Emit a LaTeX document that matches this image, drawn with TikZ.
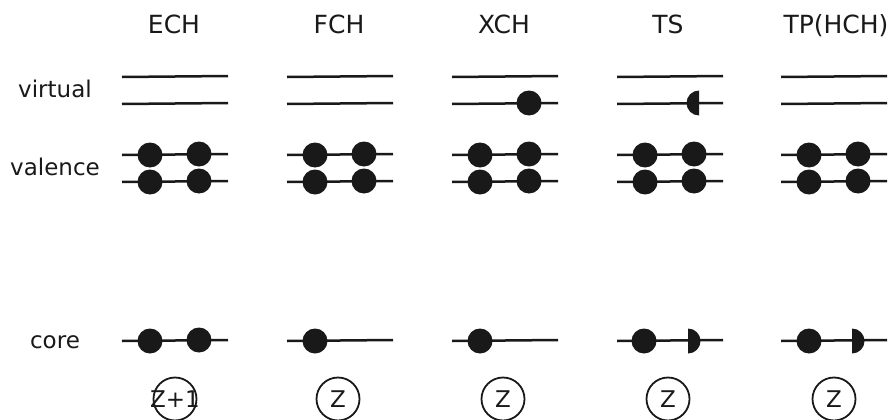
\documentclass[tikz,border=0pt]{standalone}
\usepackage{fontspec}
\setmainfont{DejaVu Sans}
\begin{document}
\begin{tikzpicture}[x=1pt,y=-1pt,
  level/.style={line width=2.5pt, draw=black!90},
  electron/.style={circle, fill=black!90, inner sep=0pt, minimum size=25pt},
  head/.style={anchor=base, text=black!90, font=\fontsize{25}{25}\selectfont},
  side/.style={anchor=base, text=black!90, font=\fontsize{23}{23}\selectfont},
  charge/.style={circle, draw=black!90, line width=1.8pt, minimum size=43pt,
    inner sep=0pt, text=black!90, font=\fontsize{23}{23}\selectfont}]
\useasboundingbox (0,0) rectangle (891,420);

% column headers
\node[head] (h-ech) at (174,34) {ECH};
\node[head] (h-fch) at (339,34) {FCH};
\node[head] (h-xch) at (504,34) {XCH};
\node[head] (h-tsc) at (668,34) {TS};
\node[head] (h-tph) at (836,34) {TP(HCH)};

% row labels
\node[side] (r-vir) at (55,97.5) {virtual};
\node[side] (r-val) at (55,175) {valence};
\node[side] (r-cor) at (55,348) {core};

% end points of the orbital levels in each column
\foreach \c/\l in {ech/122, fch/287, xch/452, tsc/617, tph/781} {
  \coordinate (\c-v1l) at (\l,77);      \coordinate (\c-v1r) at (\l+106,76);
  \coordinate (\c-v2l) at (\l,104);     \coordinate (\c-v2r) at (\l+106,103);
  \coordinate (\c-a1l) at (\l,155);     \coordinate (\c-a1r) at (\l+106,154);
  \coordinate (\c-a2l) at (\l,182);     \coordinate (\c-a2r) at (\l+106,181);
  \coordinate (\c-kl)  at (\l,341);     \coordinate (\c-kr)  at (\l+106,340);
}

% orbital levels
\foreach \c in {ech, fch, xch, tsc, tph} {
  \draw[level] (\c-v1l) -- (\c-v1r);
  \draw[level] (\c-v2l) -- (\c-v2r);
  \draw[level] (\c-a1l) -- (\c-a1r);
  \draw[level] (\c-a2l) -- (\c-a2r);
  \draw[level] (\c-kl)  -- (\c-kr);
}

% valence electrons (filled in every column)
\foreach \c/\l in {ech/122, fch/287, xch/452, tsc/617, tph/781} {
  \node[electron] (\c-e1) at (\l+28,155) {};
  \node[electron] (\c-e2) at (\l+77,154) {};
  \node[electron] (\c-e3) at (\l+28,182) {};
  \node[electron] (\c-e4) at (\l+77,181) {};
}

% core electrons
\node[electron] (ech-k1) at (150,341) {};
\node[electron] (ech-k2) at (199,340) {};
\node[electron] (fch-k1) at (315,341) {};
\node[electron] (xch-k1) at (480,341) {};
\node[electron] (tsc-k1) at (644,341) {};
\node[electron] (tph-k1) at (809,341) {};

% excited electron in XCH
\node[electron] (xch-x) at (529,103) {};

% half electrons
\fill[black!90] (699,90.5) arc[start angle=90, end angle=270, radius=12.5pt] -- cycle;
\fill[black!90] (688,328.5) arc[start angle=90, end angle=-90, radius=12.5pt] -- cycle;
\fill[black!90] (852,328.5) arc[start angle=90, end angle=-90, radius=12.5pt] -- cycle;

% nuclear charges
\node[charge] (z-ech) at (175,399) {\makebox[0pt]{Z+1}};
\node[charge] (z-fch) at (338,399) {Z};
\node[charge] (z-xch) at (503,399) {Z};
\node[charge] (z-tsc) at (668,399) {Z};
\node[charge] (z-tph) at (834,399) {Z};
\end{tikzpicture}
\end{document}
